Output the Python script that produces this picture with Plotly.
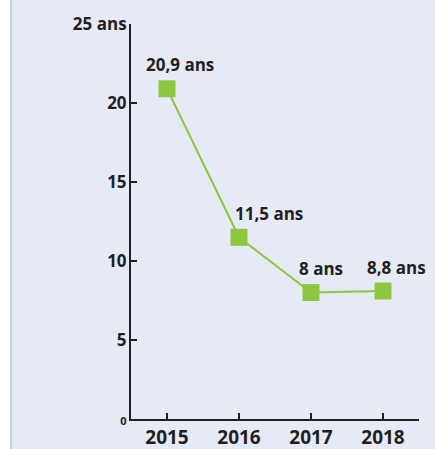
import plotly.graph_objects as go

years = [2015, 2016, 2017, 2018]
values = [20.9, 11.5, 8.0, 8.1]
labels = ["20,9 ans", "11,5 ans", "8 ans", "8,8 ans"]
y_tickvals = [0, 5, 10, 15, 20, 25]
y_ticktext = ['<span style="font-size:11px">0</span>', "5", "10", "15", "20", "25 ans"]

GREEN = "#8dc63f"
DARK = "#231f20"
BG = "#e6eaf6"
FONT = "Open Sans"

label_xshift = [13, 30, 10, 13]

fig = go.Figure()
fig.add_trace(go.Scatter(
    x=years, y=values, mode="lines+markers",
    line=dict(color=GREEN, width=2),
    marker=dict(symbol="square", size=17, color=GREEN),
    hoverinfo="skip", showlegend=False, cliponaxis=False,
))

for x, y, t, dx in zip(years, values, labels, label_xshift):
    fig.add_annotation(x=x, y=y, text=t, showarrow=False, xshift=dx, yshift=24,
                       font=dict(family=FONT, size=17, color=DARK, weight="bold"))

fig.add_shape(type="rect", xref="paper", yref="paper", xsizemode="pixel", xanchor=0,
              x0=-150, x1=-120, y0=-1, y1=2, fillcolor="white",
              line=dict(color="#b9c3d8", width=1.5), layer="below")

fig.update_layout(
    width=435, height=449,
    margin=dict(l=131, r=16, t=24, b=30, autoexpand=False),
    paper_bgcolor=BG, plot_bgcolor=BG,
    xaxis=dict(range=[2014.5, 2018.5], tickvals=years, ticktext=[str(y) for y in years],
               showgrid=False, zeroline=False, showline=True, linecolor=DARK, linewidth=2,
               ticks="inside", ticklen=6, tickwidth=2, tickcolor=DARK, automargin=False,
               tickfont=dict(family=FONT, size=19, color=DARK, weight="bold")),
    yaxis=dict(range=[0, 25], tickvals=y_tickvals, ticktext=y_ticktext,
               showgrid=False, zeroline=False, showline=True, linecolor=DARK, linewidth=2,
               ticks="inside", ticklen=6, tickwidth=2, tickcolor=DARK, automargin=False,
               ticklabelstandoff=-1,
               tickfont=dict(family=FONT, size=17, color=DARK, weight="bold")),
)

fig.write_html("out.html", config={"displayModeBar": False},
               post_script="document.body.style.margin='0';document.body.style.overflow='hidden';")
